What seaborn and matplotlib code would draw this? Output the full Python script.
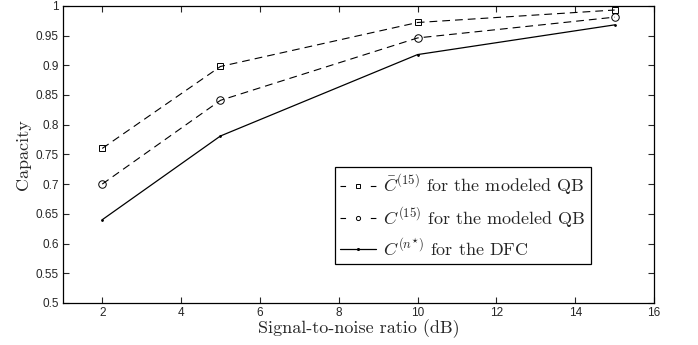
import seaborn as sns
import matplotlib.pyplot as plt
import pandas as pd

# Values
snr_db = [2, 5, 10, 15]
c_bar_qb = [0.760, 0.898, 0.972, 0.993]
c_qb = [0.700, 0.841, 0.946, 0.981]
c_dfc = [0.640, 0.781, 0.918, 0.968]

x_ticks = [2, 4, 6, 8, 10, 12, 14, 16]
y_ticks = [0.5, 0.55, 0.6, 0.65, 0.7, 0.75, 0.8, 0.85, 0.9, 0.95, 1.0]
y_tick_labels = ["0.5", "0.55", "0.6", "0.65", "0.7", "0.75", "0.8", "0.85", "0.9", "0.95", "1"]

labels = [r"$\bar{C}^{(15)}$ for the modeled QB",
          r"$C^{(15)}$ for the modeled QB",
          r"$C^{(n^{\star})}$ for the DFC"]

sns.set_style("ticks")
plt.rcParams["font.family"] = ["Liberation Sans", "DejaVu Sans"]
plt.rcParams["mathtext.fontset"] = "cm"

df = pd.DataFrame({"snr": snr_db * 3,
                   "cap": c_bar_qb + c_qb + c_dfc,
                   "series": [labels[0]] * 4 + [labels[1]] * 4 + [labels[2]] * 4})

fig = plt.figure(figsize = (6.98, 3.45), dpi = 100)
ax = fig.add_axes([0.090, 0.122, 0.847, 0.861])

# Draw The Three Curves
styles = [(labels[0], "s", True, 4.4, 0.8),
          (labels[1], "o", True, 5.4, 0.8),
          (labels[2], ".", False, 2.5, 0.9)]
for name, mk, dashed, ms, lw in styles:
    sub = df[df["series"] == name]
    sns.lineplot(data = sub, x = "snr", y = "cap", ax = ax, color = "black",
                 marker = mk, markersize = ms, markerfacecolor = "none" if mk != "." else "black",
                 markeredgecolor = "black", markeredgewidth = 0.7,
                 linewidth = lw, label = name)
    if dashed:
        ax.lines[-1].set_dashes((7, 4.5))

ax.set_xlim(1, 16)
ax.set_ylim(0.5, 1.0)
ax.set_xticks(x_ticks)
ax.set_xticklabels([str(t) for t in x_ticks])
ax.set_yticks(y_ticks)
ax.set_yticklabels(y_tick_labels)
ax.tick_params(direction = "in", top = True, right = True, labelsize = 8.5,
               length = 4, width = 0.8, pad = 3)
for sp in ax.spines.values():
    sp.set_linewidth(0.9)
    sp.set_color("black")

ax.set_xlabel("Signal-to-noise ratio (dB)", fontfamily = "cmr10", fontsize = 13, labelpad = 0)
ax.set_ylabel("Capacity", fontfamily = "cmr10", fontsize = 13, labelpad = 3)

leg = ax.legend(loc = "lower right", bbox_to_anchor = (591 / 698, 1 - 264 / 345),
                bbox_transform = fig.transFigure, borderaxespad = 0,
                prop = {"family": "cmr10", "size": 13}, frameon = True, fancybox = False,
                edgecolor = "black", framealpha = 1, handlelength = 2.0, handletextpad = 0.4,
                labelspacing = 0.41, borderpad = 0.3)
leg.get_frame().set_linewidth(0.9)
for h, dashed in zip(leg.legend_handles, [s[2] for s in styles]):
    h.set_markersize(3.0)
    if dashed:
        h.set_dashes((5, 22.3))

fig.savefig("out.png", dpi = 100)
